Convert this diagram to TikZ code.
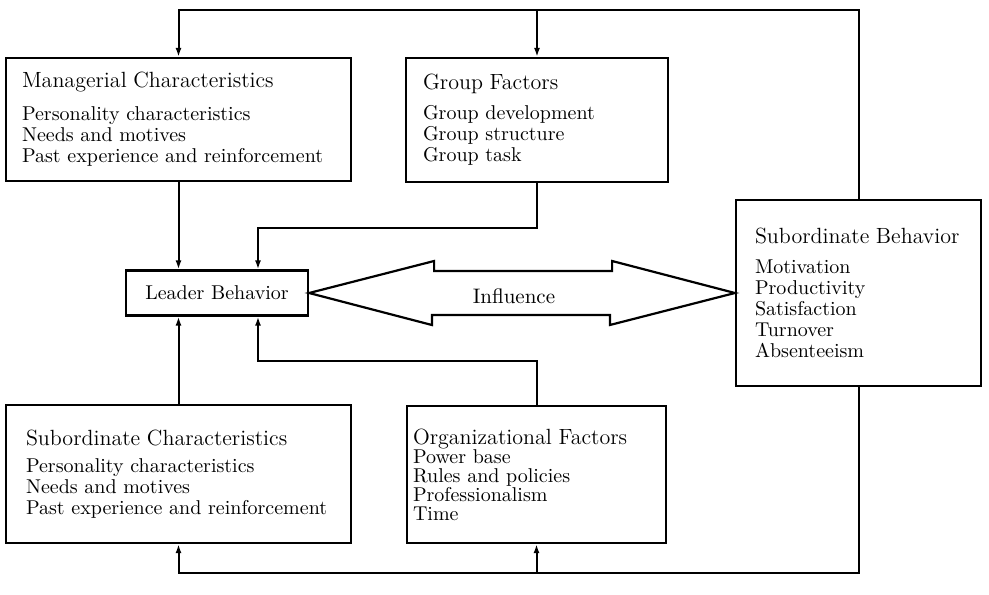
\documentclass[tikz,border=0pt]{standalone}
\usepackage{amsmath}
\usepackage{tikz}
\usetikzlibrary{arrows.meta,positioning}

\newcommand{\boxhead}[1]{{\fontsize{11}{13}\selectfont #1}}

\begin{document}
\begin{tikzpicture}[x=0.5pt, y=-0.5pt,
    factor/.style={draw, line width=1.1pt, align=left, font=\fontsize{10}{10.5}\selectfont},
    flow/.style={line width=1pt, -{Latex[length=4.5pt,width=3pt]}}]

      \useasboundingbox (0, 0) rectangle (989, 594);

      \node [factor, inner xsep=8pt, text width=156.5pt, minimum height=61.5pt] (mgr) at (178.5, 119.5)
        {\boxhead{Managerial Characteristics}\\[6pt]
         Personality characteristics\\
         Needs and motives\\
         Past experience and reinforcement};
      \node [factor, inner xsep=8.5pt, text width=114pt, minimum height=62pt] (grp) at (537, 120)
        {\boxhead{Group Factors}\\[4.5pt]
         Group development\\
         Group structure\\
         Group task};
      \node [factor, align=center, minimum width=91pt, minimum height=22.5pt] (ldr) at (217, 293)
        {Leader Behavior};
      \node [factor, inner xsep=9.5pt, text width=103.5pt, minimum height=93pt] (sbeh) at (858.5, 293)
        {\boxhead{Subordinate Behavior}\\[4.5pt]
         Motivation\\
         Productivity\\
         Satisfaction\\
         Turnover\\
         Absenteeism};
      \node [factor, inner xsep=10pt, text width=152.5pt, minimum height=69pt] (schar) at (178.5, 474)
        {\boxhead{Subordinate Characteristics}\\[3pt]
         Personality characteristics\\
         Needs and motives\\
         Past experience and reinforcement};
      \node [factor, inner xsep=3pt, text width=123.5pt, minimum height=68.5pt,
             font=\fontsize{10}{9.5}\selectfont] (org) at (536.5, 474.5)
        {\boxhead{Organizational Factors}\\
         Power base\\
         Rules and policies\\
         Professionalism\\
         Time};

      \draw [line width=1.1pt] (ldr.east) -- ++(125, -32) -- ++(0, 10) -- ++(178, 0) -- ++(0, -10)
        -- (sbeh.west) -- ++(-125, 32) -- ++(0, -10) -- ++(-178, 0) -- ++(0, 10) -- cycle;
      \node [font=\fontsize{10.5}{12}\selectfont] (infl) at (514, 296) {Influence};

      \coordinate (topbus) at (0, 10);
      \coordinate (botbus) at (0, 573);

      \draw [flow] (sbeh.north) |- (topbus -| mgr.north) -- (mgr.north);
      \draw [flow] (grp.north |- topbus) -- (grp.north);
      \draw [flow] (sbeh.south) |- (botbus -| schar.south) -- (schar.south);
      \draw [flow] (org.south |- botbus) -- (org.south);

      \draw [flow] (mgr.south) -- (mgr.south |- ldr.north);
      \draw [flow] (schar.north) -- (schar.north |- ldr.south);
      \draw [flow] (grp.south) -- ++(0, 45) -| ([xshift=20.5pt]ldr.north);
      \draw [flow] (org.north) -- ++(0, -44) -| ([xshift=20.5pt]ldr.south);
\end{tikzpicture}
\end{document}
